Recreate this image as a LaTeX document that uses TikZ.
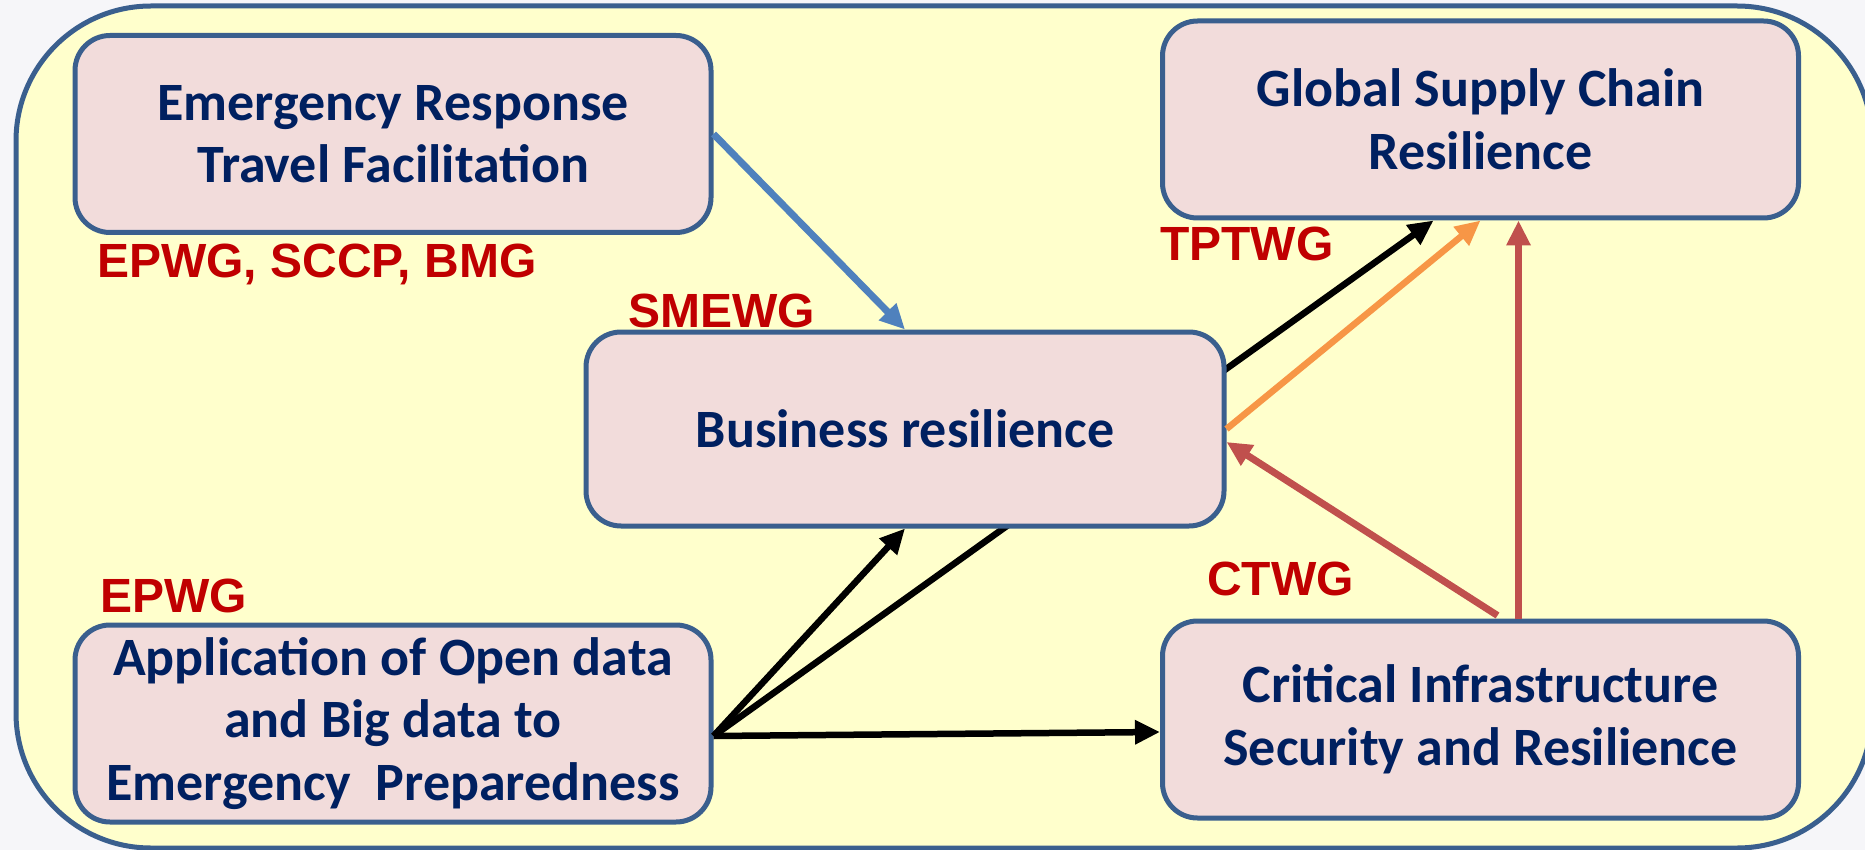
\documentclass[tikz,border=0pt]{standalone}
\usepackage{fontspec}
\setmainfont{Carlito}
\newfontfamily\arialfont{Liberation Sans}
\usetikzlibrary{arrows.meta,calc}
\pgfdeclarelayer{back}
\pgfdeclarelayer{mid}
\pgfsetlayers{back,mid,main}
\definecolor{frameyellow}{HTML}{FFFFCC}
\definecolor{boxpink}{HTML}{F2DCDB}
\definecolor{boxblue}{HTML}{3A5F8E}
\definecolor{navy}{HTML}{002060}
\definecolor{labelred}{HTML}{C00000}
\definecolor{arrblue}{HTML}{4F81BD}
\definecolor{arrorange}{HTML}{F79646}
\definecolor{arrred}{HTML}{C0504D}
\definecolor{outside}{HTML}{F6F6F9}
\begin{document}
\begin{tikzpicture}[x=1pt,y=-1pt,
  box/.style={draw=boxblue,line width=5pt,fill=boxpink,rounded corners=35pt,
    minimum width=636pt,minimum height=197pt,align=center,text=navy,
    font=\bfseries\fontsize{54}{62.5}\selectfont,inner sep=0pt},
  grp/.style={text=labelred,font=\arialfont\bfseries\fontsize{48}{56}\selectfont,
    inner sep=0pt,anchor=base west},
  conn/.style={line width=6.5pt,-{Triangle[length=25pt,width=23pt]}},
  thick conn/.style={conn,line width=7pt},
]
\useasboundingbox (0,0) rectangle (1865,850);
\begin{pgfonlayer}{back}
  \fill[outside] (0,0) rectangle (1865,850);
  \draw[draw=boxblue,line width=5pt,fill=frameyellow,rounded corners=135pt]
    (16,6) rectangle (1872,848);
\end{pgfonlayer}

\node[box] (ert) at (393,134) {Emergency Response\\Travel Facilitation};
\node[box] (gsc) at (1480.5,119.5) {Global Supply Chain\\Resilience};
\node[box,minimum width=638pt,minimum height=194pt] (bus) at (905,429) {Business resilience};
\node[box] (app) at (393,723.5) {Application of Open data\\and Big data to\\Emergency\ \ Preparedness};
\node[box] (cis) at (1480.5,719.5) {Critical Infrastructure\\Security and Resilience};

\node[grp] (l1) at (97,277) {EPWG, SCCP, BMG};
\node[grp] (l2) at (628,327) {SMEWG};
\node[grp] (l3) at (1160,261) {TPTWG};
\node[grp] (l4) at (100,612) {EPWG};
\node[grp] (l5) at (1207,595) {CTWG};

\begin{pgfonlayer}{mid}
  \draw[conn] ($(app.east)+(0,12.5)$) -- ($(gsc.south)+(-47,0)$);
\end{pgfonlayer}

\draw[thick conn,arrblue] (ert.east) -- (bus.north);
\draw[conn] ($(app.east)+(0,12.5)$) -- (bus.south);
\draw[conn] ($(app.east)+(0,12.5)$) -- ($(cis.west)+(0,12.5)$);
\draw[conn,arrorange] (bus.east) -- (gsc.south);
\draw[thick conn,arrred] ($(cis.north)+(38,0)$) -- ($(gsc.south)+(38,0)$);
\draw[thick conn,arrred] ($(cis.north)+(17,-3)$) -- ($(bus.east)+(0,13)$);
\end{tikzpicture}
\end{document}
